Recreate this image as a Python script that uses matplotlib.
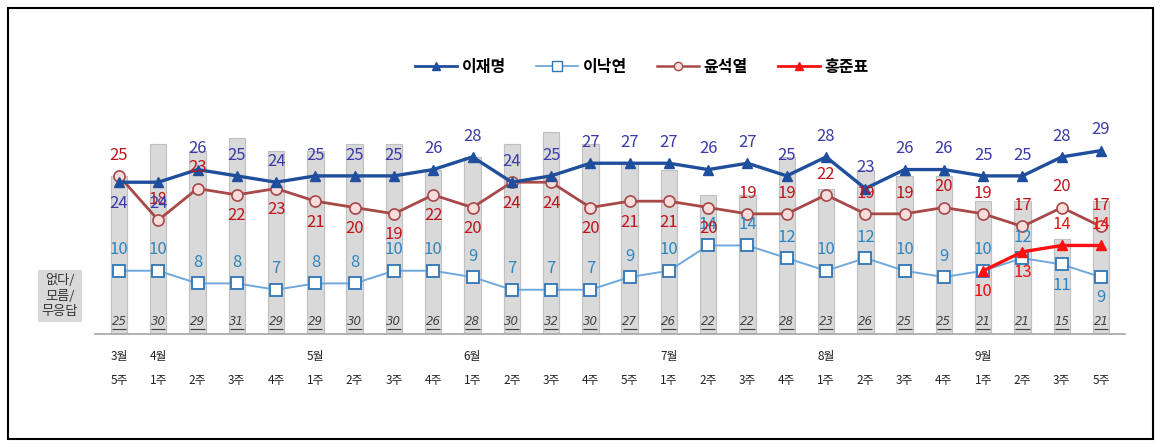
import matplotlib
matplotlib.use("Agg")
import matplotlib.pyplot as plt
from matplotlib.lines import Line2D
from matplotlib.patches import Rectangle
import matplotlib.transforms as mtransforms

plt.rcParams['font.family'] = ['Noto Sans CJK KR', 'DejaVu Sans']

# data
months = ['3월', '4월', '', '', '', '5월', '', '', '', '6월', '', '', '', '',
          '7월', '', '', '', '8월', '', '', '', '9월', '', '', '']
weeks = ['5주', '1주', '2주', '3주', '4주', '1주', '2주', '3주', '4주',
         '1주', '2주', '3주', '4주', '5주', '1주', '2주', '3주', '4주',
         '1주', '2주', '3주', '4주', '1주', '2주', '3주', '5주']
lee_jm = [24, 24, 26, 25, 24, 25, 25, 25, 26, 28, 24, 25, 27, 27, 27, 26,
          27, 25, 28, 23, 26, 26, 25, 25, 28, 29]
lee_ny = [10, 10, 8, 8, 7, 8, 8, 10, 10, 9, 7, 7, 7, 9, 10, 14, 14, 12, 10,
          12, 10, 9, 10, 12, 11, 9]
yoon = [25, 18, 23, 22, 23, 21, 20, 19, 22, 20, 24, 24, 20, 21, 21, 20, 19,
        19, 22, 19, 19, 20, 19, 17, 20, 17]
hong = [10, 13, 14, 14]
hong_start = 22
no_answer = [25, 30, 29, 31, 29, 29, 30, 30, 26, 28, 30, 32, 30, 27, 26, 22,
             22, 28, 23, 26, 25, 25, 21, 21, 15, 21]

# label placement (1 = above, -1 = below)
pos_jm = [-1, -1] + [1] * 24
pos_ny = [1] * 24 + [-1, -1]
pos_yoon = [1, 1, 1] + [-1] * 13 + [1] * 10
pos_hong = [-1, -1, 1, 1]

x = list(range(len(weeks)))

fig = plt.figure(figsize=(11.62, 4.47), dpi=100)
ax = fig.add_axes([95 / 1162, 113 / 447, 1030 / 1162, 234 / 447])

ax.bar(x, no_answer, width=0.42, color='#d9d9d9', edgecolor='#bfbfbf',
       linewidth=0.8, zorder=1)

ax.plot(x, lee_ny, color='#6fa8dc', lw=1.4, marker='s', ms=8,
        mfc='white', mec='#2e75b6', mew=1.3, zorder=3)
ax.plot(x, yoon, color='#a84848', lw=2.0, marker='o', ms=8,
        mfc='#f9dcdc', mec='#a84848', mew=1.2, zorder=4)
ax.plot(x, lee_jm, color='#1f4e9c', lw=2.4, marker='^', ms=7,
        mfc='#1f4e9c', mec='#1f4e9c', zorder=5)
hx = x[hong_start:hong_start + len(hong)]
ax.plot(hx, hong, color='#ff1010', lw=2.4, marker='^', ms=7,
        mfc='#ff1010', mec='#ff1010', zorder=6)


def put_labels(xs, ys, pos, color):
    for xi, yi, p in zip(xs, ys, pos):
        ax.annotate(str(yi), (xi, yi), xytext=(0, 15 * p),
                    textcoords='offset points', ha='center', va='center',
                    fontsize=12, color=color, zorder=7)


put_labels(x, lee_ny, pos_ny, '#2e86c1')
put_labels(x, yoon, pos_yoon, '#c0141c')
put_labels(x, lee_jm, pos_jm, '#3a3aa8')
put_labels(hx, hong, pos_hong, '#e81010')

# no-answer values at the foot of each bar, italic and underlined
trans = mtransforms.blended_transform_factory(ax.transData, ax.transAxes)
for xi, v in zip(x, no_answer):
    ax.text(xi, 0.055, str(v), transform=trans, ha='center', va='center',
            fontsize=8.5, style='italic', color='#404040', zorder=7,
            family='DejaVu Sans')
ax.hlines([0.02] * len(x), [xi - 0.18 for xi in x], [xi + 0.18 for xi in x],
          transform=trans, colors='#404040', lw=0.8, zorder=7)

ax.set_xlim(-0.61, 25.61)
ax.set_ylim(0, 37)
for s in ['top', 'right', 'left']:
    ax.spines[s].set_visible(False)
ax.spines['bottom'].set_color('#a6a6a6')
ax.spines['bottom'].set_linewidth(1.2)
ax.set_yticks([])
ax.set_xticks(x)
ax.set_xticklabels([])
ax.tick_params(axis='x', length=0)

for xi, m, w in zip(x, months, weeks):
    ax.text(xi, -0.095, m, transform=trans, ha='center', va='center',
            fontsize=8.5, color='#222222')
    ax.text(xi, -0.2, w, transform=trans, ha='center', va='center',
            fontsize=8.5, color='#222222')

# left side box
fig.text(60 / 1162, 1 - 296 / 447, '없다/\n모름/\n무응답', ha='center',
         va='center', fontsize=9.5, color='#333333', linespacing=1.3,
         bbox=dict(boxstyle='square,pad=0.3', fc='#d9d9d9', ec='none'))

# legend
handles = [
    Line2D([], [], color='#1f4e9c', lw=2, marker='^', ms=6, mfc='#1f4e9c'),
    Line2D([], [], color='#6fa8dc', lw=1.3, marker='s', ms=7, mfc='white',
           mec='#2e75b6'),
    Line2D([], [], color='#a84848', lw=1.8, marker='o', ms=6, mfc='#f9dcdc',
           mec='#a84848'),
    Line2D([], [], color='#ff1010', lw=2, marker='^', ms=6, mfc='#ff1010'),
]
fig.legend(handles, ['이재명', '이낙연', '윤석열', '홍준표'], ncol=4,
           loc='center', bbox_to_anchor=(642 / 1162, 1 - 67 / 447),
           frameon=False, prop={'size': 11.5, 'weight': 'bold'},
           handlelength=2.6, handletextpad=0.3, columnspacing=1.9)

fig.patches.append(Rectangle((8 / 1162, 8 / 447), 1145 / 1162, 431 / 447,
                             transform=fig.transFigure, fill=False,
                             ec='black', lw=1.5))

fig.savefig('out.png', dpi=100)
